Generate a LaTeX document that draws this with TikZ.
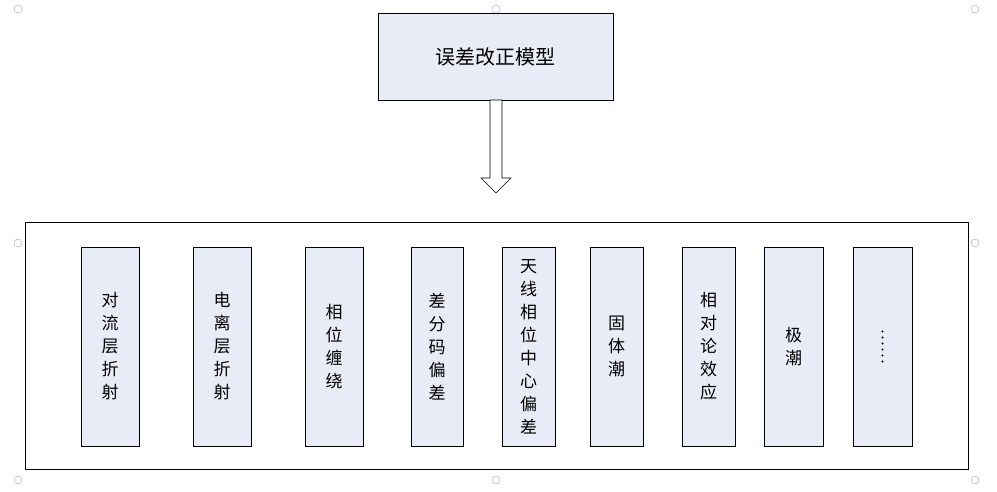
\documentclass[tikz,border=0pt]{standalone}
\usepackage{fontspec}
\setmainfont{Noto Sans CJK SC}
\usetikzlibrary{shapes.arrows}
\definecolor{boxfill}{HTML}{E8ECF6}
\begin{document}
\begin{tikzpicture}[x=1pt,y=-1pt,
  box/.style={draw=black,fill=boxfill,line width=0.6pt,inner sep=0pt},
  handle/.style={draw=gray!70,fill=white,line width=0.4pt},
  vtext/.style={font=\fontsize{17}{23}\selectfont,align=center}]
\useasboundingbox (0,0) rectangle (997,491);
\node[box,minimum width=235pt,minimum height=87pt,font=\fontsize{20}{22}\selectfont] (top) at (495.5,56.5) {误差改正模型};
\draw[line width=0.6pt,fill=white] (490,100) -- (502,100) -- (502,178) -- (511,178) -- (496,193) -- (481,178) -- (490,178) -- cycle;
\node[draw=black,line width=0.6pt,minimum width=943pt,minimum height=247pt,inner sep=0pt] (outer) at (496.5,345.5) {};
\foreach \n/\a/\b/\t in {1/81/139/{对\\流\\层\\折\\射},2/193/251/{电\\离\\层\\折\\射},3/305/363/{相\\位\\缠\\绕},4/411/463/{差\\分\\码\\偏\\差},5/502/555/{天\\线\\相\\位\\中\\心\\偏\\差},6/590/643/{固\\体\\潮},7/682/735/{相\\对\\论\\效\\应},8/764/823/{极\\潮}}{
  \node[box,minimum width={\b-\a},minimum height=199pt] (b\n) at ({(\a+\b)/2},346.5) {};
  \node[vtext] at (b\n) {\t};
}
\node[box,minimum width=59pt,minimum height=199pt] (b9) at (882.5,346.5) {};
\foreach \k in {0,...,5} \fill (b9.center) ++(0,{-15+6*\k}) circle (1.2pt);
\foreach \p in {(18,9),(496,9),(975,9),(18,243),(975,243),(18,480),(496,480),(975,480)} \draw[handle] \p circle (4pt);
\end{tikzpicture}
\end{document}
